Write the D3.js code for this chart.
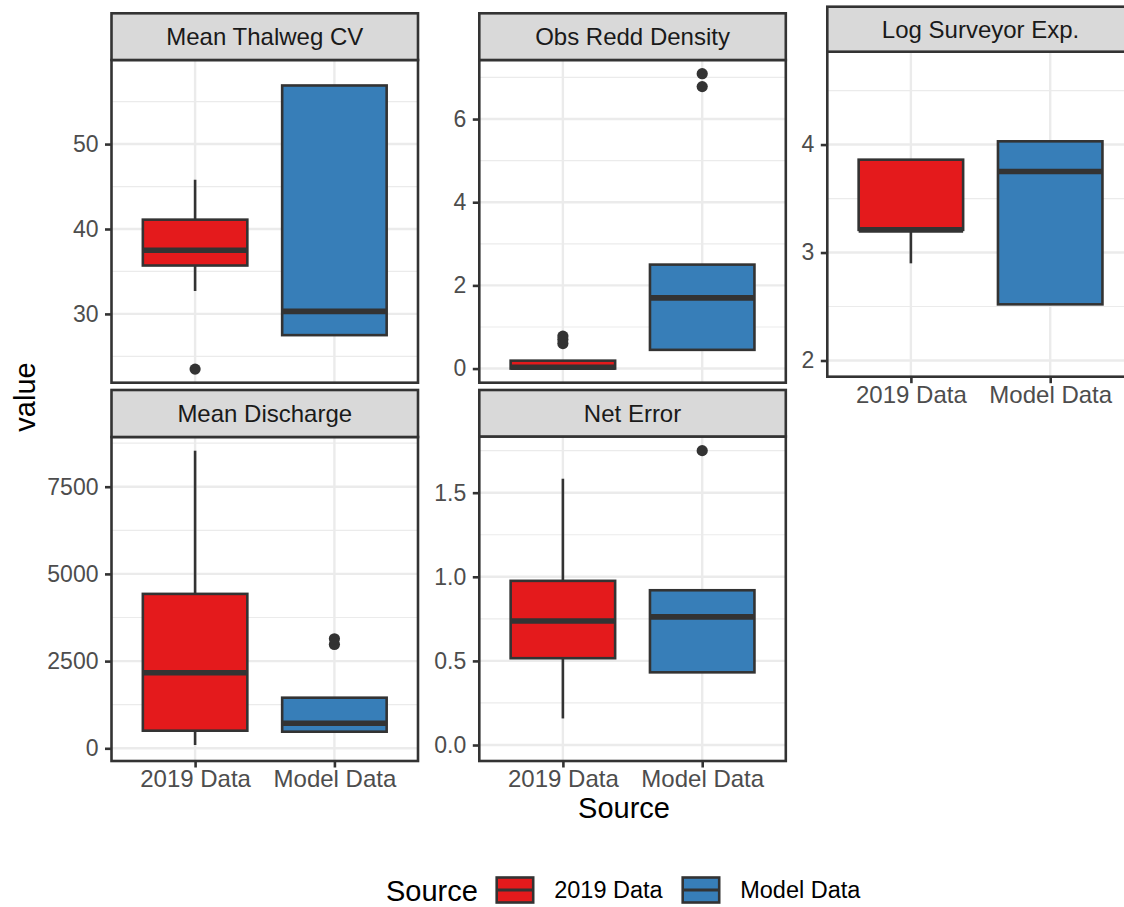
<!DOCTYPE html>
<html><head><meta charset="utf-8">
<script src="https://cdn.jsdelivr.net/npm/d3@7"></script>
<style>body{margin:0;background:#fff} text{font-family:"Liberation Sans", Arial, Helvetica, sans-serif}</style>
</head><body><svg id="c" width="1124" height="907"></svg>
<script>
// ---- data ----
const facets = ["Mean Thalweg CV", "Obs Redd Density", "Log Surveyor Exp.", "Mean Discharge", "Net Error"];
const sources = ["2019 Data", "Model Data"];
const colors = ["#E41A1C", "#377EB8"];
// [lower whisker, Q1, median, Q3, upper whisker] per facet
const box2019 = [
  [32.7, 35.7, 37.5, 41.1, 45.8],
  [0, 0, 0.03, 0.19, 0.19],
  [2.9, 3.21, 3.21, 3.86, 3.86],
  [95, 505, 2168, 4427, 8532],
  [0.158, 0.516, 0.737, 0.976, 1.583]
];
const boxModel = [
  [27.5, 27.5, 30.3, 56.9, 56.9],
  [0.45, 0.45, 1.7, 2.5, 2.5],
  [2.52, 2.52, 3.75, 4.03, 4.03],
  [476, 476, 717, 1451, 1451],
  [0.432, 0.432, 0.762, 0.92, 0.92]
];
const out2019 = [[23.5], [0.6, 0.7, 0.78], [], [], []];
const outModel = [[], [6.78, 7.09], [], [2977, 3139], [1.75]];
const yTicks = [[30, 40, 50], [0, 2, 4, 6], [2, 3, 4], [0, 2500, 5000, 7500], [0, 0.5, 1, 1.5]];
const yMinor = [[25, 35, 45, 55], [1, 3, 5, 7], [2.5, 3.5, 4.5], [1250, 3750, 6250, 8750], [0.25, 0.75, 1.25, 1.75]];
const yLimits = [[21.9, 59.9], [-0.34, 7.42], [1.85, 4.86], [-364, 8925], [-0.095, 1.834]];
const yFormats = ["d", "d", "d", "d", ".1f"];

// ---- layout ----
const layout = [
  {x0: 111.5, st: 13.3, sb: 60, pb: 382.7, xAxis: false},
  {x0: 479.3, st: 13.3, sb: 60, pb: 382.7, xAxis: false},
  {x0: 827.3, st: 6.7, sb: 51.7, pb: 376.7, xAxis: true},
  {x0: 111.5, st: 390, sb: 437, pb: 761, xAxis: true},
  {x0: 479.3, st: 390, sb: 436.5, pb: 761, xAxis: true}
];
const PW = 306.5;
const DARK = "#333333";
const svg = d3.select("#c");

facets.forEach((name, i) => {
  const L = layout[i];
  const g = svg.append("g");
  const x = d3.scalePoint().domain(sources).range([L.x0, L.x0 + PW]).padding(0.6);
  const y = d3.scaleLinear().domain(yLimits[i]).range([L.pb, L.sb]);
  const step = x.step();

  g.append("rect").attr("x", L.x0).attr("y", L.sb).attr("width", PW).attr("height", L.pb - L.sb).attr("fill", "#fff");
  // grid
  g.selectAll(".mn").data(yMinor[i]).join("line")
    .attr("x1", L.x0).attr("x2", L.x0 + PW).attr("y1", d => y(d)).attr("y2", d => y(d))
    .attr("stroke", "#ebebeb").attr("stroke-width", 1.2);
  g.selectAll(".mj").data(yTicks[i]).join("line")
    .attr("x1", L.x0).attr("x2", L.x0 + PW).attr("y1", d => y(d)).attr("y2", d => y(d))
    .attr("stroke", "#ebebeb").attr("stroke-width", 2.4);
  g.selectAll(".vx").data(sources).join("line")
    .attr("x1", d => x(d)).attr("x2", d => x(d)).attr("y1", L.sb).attr("y2", L.pb)
    .attr("stroke", "#ebebeb").attr("stroke-width", 2.4);

  const series = [
    {src: sources[0], s: box2019[i], o: out2019[i], c: colors[0]},
    {src: sources[1], s: boxModel[i], o: outModel[i], c: colors[1]}
  ];
  series.forEach(S => {
    const cx = x(S.src), hw = 0.375 * step;
    const [lo, q1, med, q3, hi] = S.s;
    g.selectAll(null).data(S.o).join("circle")
      .attr("cx", cx).attr("cy", d => y(d)).attr("r", 5.6).attr("fill", DARK);
    g.append("line").attr("x1", cx).attr("x2", cx).attr("y1", y(q3)).attr("y2", y(hi))
      .attr("stroke", DARK).attr("stroke-width", 2.6);
    g.append("line").attr("x1", cx).attr("x2", cx).attr("y1", y(q1)).attr("y2", y(lo))
      .attr("stroke", DARK).attr("stroke-width", 2.6);
    g.append("rect").attr("x", cx - hw).attr("width", 2 * hw)
      .attr("y", y(q3)).attr("height", y(q1) - y(q3))
      .attr("fill", S.c).attr("stroke", DARK).attr("stroke-width", 2.6);
    g.append("line").attr("x1", cx - hw).attr("x2", cx + hw).attr("y1", y(med)).attr("y2", y(med))
      .attr("stroke", DARK).attr("stroke-width", 5.6);
  });

  // border
  g.append("rect").attr("x", L.x0).attr("y", L.sb).attr("width", PW).attr("height", L.pb - L.sb)
    .attr("fill", "none").attr("stroke", DARK).attr("stroke-width", 2.6);
  // strip
  g.append("rect").attr("x", L.x0).attr("y", L.st).attr("width", PW).attr("height", L.sb - L.st)
    .attr("fill", "#d9d9d9").attr("stroke", DARK).attr("stroke-width", 2.6);
  g.append("text").attr("x", L.x0 + PW / 2).attr("y", (L.st + L.sb) / 2).attr("dy", "0.35em")
    .attr("text-anchor", "middle").attr("font-size", 24).attr("fill", "#1a1a1a").text(name);

  // y axis
  const ya = g.append("g").attr("transform", `translate(${L.x0},0)`)
    .call(d3.axisLeft(y).tickValues(yTicks[i]).tickFormat(d3.format(yFormats[i])).tickSize(6.5).tickPadding(6.5));
  ya.select(".domain").remove();
  ya.selectAll("line").attr("stroke", DARK).attr("stroke-width", 2.6);
  ya.selectAll("text").attr("font-size", 23).attr("fill", "#4d4d4d").attr("font-family", null);

  if (L.xAxis) {
    const xa = g.append("g").attr("transform", `translate(0,${L.pb})`)
      .call(d3.axisBottom(x).tickSize(6.5).tickPadding(2.5));
    xa.select(".domain").remove();
    xa.selectAll("line").attr("stroke", DARK).attr("stroke-width", 2.6);
    xa.selectAll("text").attr("font-size", 24).attr("fill", "#4d4d4d").attr("font-family", null);
  }
});

// axis titles
svg.append("text").attr("x", 624).attr("y", 818).attr("text-anchor", "middle")
  .attr("font-size", 29).attr("fill", "#000").text("Source");
svg.append("text").attr("transform", "translate(35,397) rotate(-90)").attr("text-anchor", "middle")
  .attr("font-size", 29).attr("fill", "#000").text("value");

// legend
svg.append("text").attr("x", 386).attr("y", 901).attr("font-size", 29).attr("fill", "#000").text("Source");
const legX = [496.7, 682.7];
sources.forEach((s, k) => {
  const lg = svg.append("g");
  lg.append("rect").attr("x", legX[k]).attr("y", 877.5).attr("width", 36.5).attr("height", 25)
    .attr("fill", colors[k]).attr("stroke", DARK).attr("stroke-width", 2.6);
  lg.append("line").attr("x1", legX[k]).attr("x2", legX[k] + 36.5).attr("y1", 890).attr("y2", 890)
    .attr("stroke", DARK).attr("stroke-width", 3);
  lg.append("text").attr("x", legX[k] + 57.5).attr("y", 890).attr("dy", "0.35em")
    .attr("font-size", 23.5).attr("fill", "#000").text(s);
});
</script></body></html>
